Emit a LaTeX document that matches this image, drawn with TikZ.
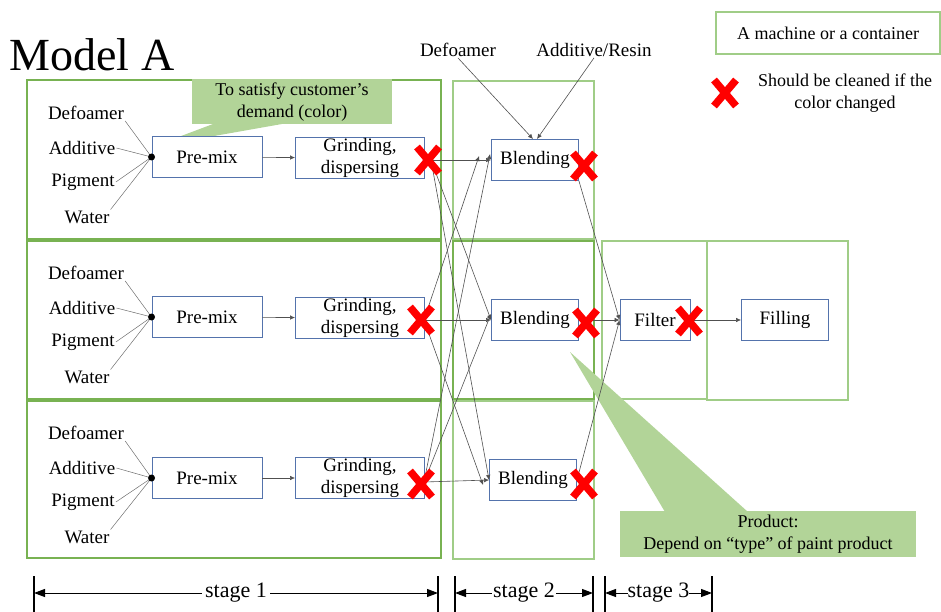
\documentclass[tikz,border=0pt]{standalone}
\usepackage{fontspec}
\setmainfont{Liberation Serif}
\usetikzlibrary{arrows.meta}
\definecolor{boxgreen}{RGB}{120,178,82}
\definecolor{palegreen}{RGB}{160,205,135}
\definecolor{calloutgreen}{RGB}{178,212,152}
\definecolor{machineblue}{RGB}{84,115,172}
\definecolor{flowgray}{RGB}{80,80,80}
\definecolor{feedgray}{RGB}{110,110,110}
\tikzset{
  stagebox/.style={draw=boxgreen, line width=1.4pt},
  lightbox/.style={draw=palegreen, line width=1.2pt},
  machine/.style={draw=machineblue, line width=0.9pt, fill=white, minimum height=41pt,
    inner sep=0pt, align=center, font=\fontsize{19}{22}\selectfont},
  input/.style={inner sep=1pt, font=\fontsize{19}{22}\selectfont},
  feed/.style={draw=feedgray, line width=0.5pt},
  flow/.style={draw=flowgray, line width=0.6pt, -{Latex[length=5pt,width=4.5pt]}},
  callout/.style={fill=calloutgreen, align=center, inner sep=0pt, font=\fontsize{18}{22}\selectfont},
  stagearrow/.style={line width=1pt, {Triangle[length=11pt,width=8pt]}-{Triangle[length=11pt,width=8pt]}},
  cleanmark/.pic={\draw[red, line width=7.5pt] (-11,-13) -- (11,13) (-11,13) -- (11,-13);}
}
\begin{document}
\begin{tikzpicture}[x=1pt, y=-1pt]
    \useasboundingbox (0,0) rectangle (941,612);
    \node[font=\fontsize{46}{50}\selectfont] (title) at (92,55) {Model A};

    % containers
    \draw[stagebox] (27,80) rectangle (441,239);
    \draw[stagebox] (27,241) rectangle (441,399);
    \draw[stagebox] (27,401) rectangle (441,558);
    \draw[lightbox] (453,81) rectangle (594,239);
    \draw[stagebox] (453,241) rectangle (594,399);
    \draw[lightbox] (453,401) rectangle (594,559);
    \draw[lightbox] (602,241) rectangle (707,399);
    \draw[lightbox] (707,241) rectangle (848,400);

    % callouts
    \fill[calloutgreen] (213,124) -- (152,147) -- (282,124) -- cycle;
    \node[callout, minimum width=200pt, minimum height=45pt] (colornote) at (292,102)
        {To satisfy customer's\\demand (color)};
    \fill[calloutgreen] (570,352) -- (665,512) -- (748,512) -- cycle;
    \node[callout, minimum width=296pt, minimum height=46pt] (typenote) at (768,534)
        {Product:\\Depend on “type” of paint product};

    % legend
    \node[lightbox, minimum width=224pt, minimum height=42pt, font=\fontsize{18}{22}\selectfont] (legend) at (828,33) {A machine or a container};
    \pic at (725,93) {cleanmark};
    \node[align=center, font=\fontsize{18}{22}\selectfont] (legendx) at (845,93) {Should be cleaned if the\\color changed};

    % stage 1, row 1
    \node[input] (d1) at (86,113) {Defoamer};
    \node[input] (a1) at (82,148) {Additive};
    \node[input] (pg1) at (83,182) {Pigment};
    \node[input] (w1) at (87,217) {Water};
    \node[machine, minimum width=110pt] (p1) at (207,157) {Pre-mix};
    \node[machine, minimum width=129pt] (g1) at (360,158) {Grinding,\\dispersing};
    \draw[feed] (d1.south east) -- (p1.west);
    \draw[feed] (a1.east) -- (p1.west);
    \draw[feed] (pg1.east) -- (p1.west);
    \draw[feed] (w1.north east) -- (p1.west);
    \fill (p1.west) circle (3.5);

    % stage 1, row 2
    \node[input] (d2) at (86,273) {Defoamer};
    \node[input] (a2) at (82,308) {Additive};
    \node[input] (pg2) at (83,342) {Pigment};
    \node[input] (w2) at (87,377) {Water};
    \node[machine, minimum width=110pt] (p2) at (207,317) {Pre-mix};
    \node[machine, minimum width=129pt] (g2) at (360,318) {Grinding,\\dispersing};
    \draw[feed] (d2.south east) -- (p2.west);
    \draw[feed] (a2.east) -- (p2.west);
    \draw[feed] (pg2.east) -- (p2.west);
    \draw[feed] (w2.north east) -- (p2.west);
    \fill (p2.west) circle (3.5);

    % stage 1, row 3
    \node[input] (d3) at (86,433) {Defoamer};
    \node[input] (a3) at (82,468) {Additive};
    \node[input] (pg3) at (83,502) {Pigment};
    \node[input] (w3) at (87,537) {Water};
    \node[machine, minimum width=110pt] (p3) at (207,478) {Pre-mix};
    \node[machine, minimum width=129pt] (g3) at (360,478) {Grinding,\\dispersing};
    \draw[feed] (d3.south east) -- (p3.west);
    \draw[feed] (a3.east) -- (p3.west);
    \draw[feed] (pg3.east) -- (p3.west);
    \draw[feed] (w3.north east) -- (p3.west);
    \fill (p3.west) circle (3.5);

    \draw[flow] (p1) -- (g1);
    \draw[flow] (p2) -- (g2);
    \draw[flow] (p3) -- (g3);

    % stage 2
    \node[input] (defo) at (458,50) {Defoamer};
    \node[input] (resin) at (594,50) {Additive/Resin};
    \node[machine, minimum width=87pt] (b1) at (535,160) {Blending};
    \node[machine, minimum width=87pt] (b2) at (535,320) {Blending};
    \node[machine, minimum width=87pt] (b3) at (533,480) {Blending};
    \draw[flow] (defo.south) -- ([xshift=-2pt]b1.north);
    \draw[flow] (resin.south) -- ([xshift=2pt]b1.north);

    \coordinate (g1out) at (431,160);
    \coordinate (g2out) at (424,320);
    \coordinate (g3out) at (424,482);
    \draw[flow] (g1out) -- (b1.west);
    \draw[flow] (g1out) -- (b2.west);
    \draw[flow] (g1out) -- (b3.west);
    \draw[flow] (g2out) -- ([xshift=-12pt,yshift=4pt]b1.west);
    \draw[flow] (g2out) -- (b2.west);
    \draw[flow] (g2out) -- ([xshift=-6pt,yshift=-5pt]b3.west);
    \draw[flow] (g3out) -- ([xshift=-1pt,yshift=6pt]b1.west);
    \draw[flow] (g3out) -- ([yshift=6pt]b2.west);
    \draw[flow] (g3out) -- (b3.west);

    % stage 3
    \node[machine, minimum width=70pt] (filter) at (655,320) {Filter};
    \node[machine, minimum width=87pt] (filling) at (785,320) {Filling};
    \draw[flow] (b1.south east) -- (filter.west);
    \draw[flow] (b2.east) -- (filter.west);
    \draw[flow] (b3.east) -- (filter.west);
    \draw[flow] (filter) -- (filling);

    % cleaning marks
    \pic at (428,160) {cleanmark};
    \pic at (421,320) {cleanmark};
    \pic at (421,484) {cleanmark};
    \pic at (584,166) {cleanmark};
    \pic at (586,323) {cleanmark};
    \pic at (584,484) {cleanmark};
    \pic at (689,321) {cleanmark};

    % stages
    \coordinate (s0) at (34,593);
    \coordinate (s1) at (438,593);
    \coordinate (s2) at (455,593);
    \coordinate (s3) at (593,593);
    \coordinate (s4) at (605,593);
    \coordinate (s5) at (712,593);
    \foreach \s in {s0,s1,s2,s3,s4,s5}
      \draw[line width=1.3pt] ([yshift=-22pt]\s) -- ([yshift=17pt]\s);
    \draw[stagearrow] (s0) -- (s1) node[midway, fill=white, inner sep=3pt, font=\fontsize{22}{24}\selectfont] {stage 1};
    \draw[stagearrow] (s2) -- (s3) node[midway, fill=white, inner sep=1pt, font=\fontsize{22}{24}\selectfont] {stage 2};
    \draw[stagearrow] (s4) -- (s5) node[midway, fill=white, inner sep=0pt, font=\fontsize{22}{24}\selectfont] {stage 3};
\end{tikzpicture}
\end{document}
